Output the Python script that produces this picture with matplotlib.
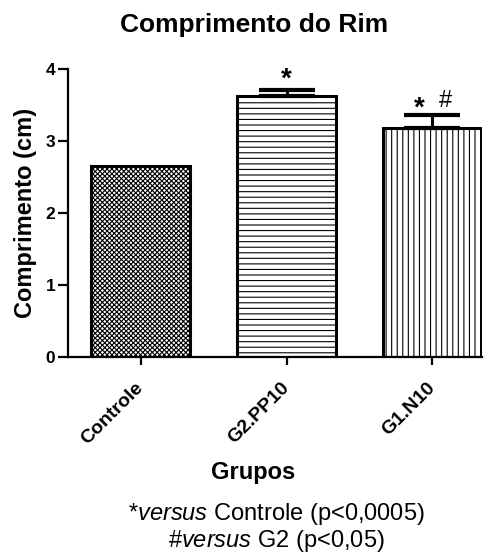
import numpy as np
import matplotlib.pyplot as plt

# ── Data ──────────────────────────────────────────────────────────────────────
groups = ["Controle", "G2.PP10", "G1.N10"]
means  = [2.65, 3.625, 3.18]
sem    = [0.0, 0.085, 0.18]
hatches = ["xxxxxxx", "---", "|||"]
# ──────────────────────────────────────────────────────────────────────────────

plt.rcParams["font.family"] = ["Liberation Sans", "DejaVu Sans"]
plt.rcParams["mathtext.fontset"] = "custom"
plt.rcParams["mathtext.rm"] = "Liberation Sans"
plt.rcParams["mathtext.it"] = "Liberation Sans:italic"
plt.rcParams["hatch.linewidth"] = 0.8

W, H = 494, 555
fig = plt.figure(figsize=(W / 100, H / 100), dpi=100)
ax = fig.add_axes([68 / W, 1 - 357 / H, (482 - 68) / W, (357 - 69) / H])

x = np.arange(len(groups))
bars = ax.bar(x, means, width=0.68, color="white", edgecolor="black",
              linewidth=2.2, zorder=2)
for b, h in zip(bars, hatches):
    b.set_hatch(h)

ax.errorbar(x[1:], means[1:], yerr=[np.zeros(2), sem[1:]], fmt="none",
            ecolor="black", elinewidth=2.2, capsize=20, capthick=3, zorder=3)

# significance marks
top1 = means[1] + sem[1]
top2 = means[2] + sem[2]
ax.text(x[1], top1 + 0.04, "*", ha="center", va="baseline",
        fontsize=20, fontweight="bold")
ax.text(x[2] - 0.09, top2 - 0.01, "*", ha="center", va="baseline",
        fontsize=20, fontweight="bold")
ax.text(x[2] + 0.09, top2 + 0.11, "#", ha="center", va="baseline",
        fontsize=17)

ax.set_xlim(-0.5, 2.34)
ax.set_ylim(0, 4)
ax.set_yticks([0, 1, 2, 3, 4])
ax.set_xticks(x)
ax.set_xticklabels(groups, rotation=45, ha="right", va="center",
                   rotation_mode="anchor", fontsize=14, fontweight="bold")
for lab in ax.get_yticklabels():
    lab.set_fontweight("bold")
    lab.set_fontsize(12.5)

for side in ["top", "right"]:
    ax.spines[side].set_visible(False)
for side in ["left", "bottom"]:
    ax.spines[side].set_linewidth(1.6)
ax.tick_params(axis="y", width=1.6, length=7, pad=2)
ax.tick_params(axis="x", width=1.6, length=6, pad=14)

ax.set_ylabel("Comprimento (cm)", fontsize=17, fontweight="bold", labelpad=6)
ax.set_xlabel("Grupos", fontsize=17, fontweight="bold")
ax.xaxis.set_label_coords((253.5 - 68) / 414, -(461 - 357) / 288)

fig.text(254 / W, 1 - 32 / H, "Comprimento do Rim", ha="center",
         va="baseline", fontsize=19, fontweight="bold")

fig.text(276.5 / W, 1 - 520 / H, r"*$\it{versus}$ Controle (p<0,0005)",
         ha="center", va="baseline", fontsize=17)
fig.text(276.5 / W, 1 - 547 / H, r"#$\it{versus}$ G2 (p<0,05)",
         ha="center", va="baseline", fontsize=17)

fig.savefig("out.png", dpi=100)
